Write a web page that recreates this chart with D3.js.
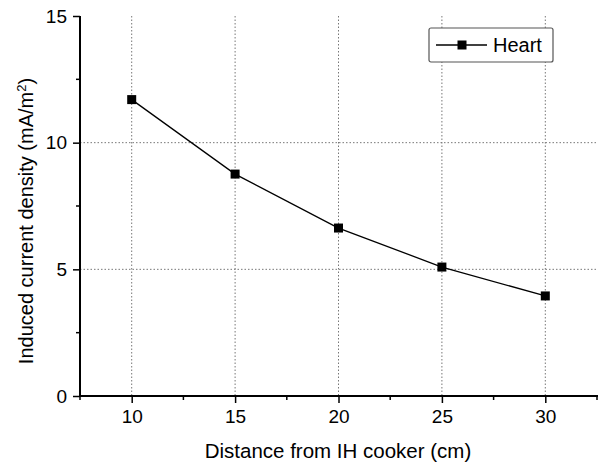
<!DOCTYPE html>
<html>
<head>
<meta charset="utf-8">
<script src="https://cdn.jsdelivr.net/npm/d3@7"></script>
<style>
  body { margin: 0; background: #fff; }
  text { font-family: "Liberation Sans", Arial, sans-serif; fill: #000; }
</style>
</head>
<body>
<div id="chart"></div>
<script>
var distances = [10, 15, 20, 25, 30];          // cm
var heartValues = [11.7, 8.76, 6.63, 5.09, 3.95]; // mA/m^2
var xTicks = [10, 15, 20, 25, 30];
var xMinor = [7.5, 12.5, 17.5, 22.5, 27.5, 32.5];
var yTicks = [0, 5, 10, 15];
var yMinor = [2.5, 7.5, 12.5];
var seriesName = "Heart";

var w = 604, h = 464;
var svg = d3.select("#chart").append("svg")
    .attr("width", w)
    .attr("height", h);

var x = d3.scaleLinear().domain([7.5, 32.5]).range([80, 597]);
var y = d3.scaleLinear().domain([0, 15]).range([396, 16]);

// grid lines, dotted grey
svg.append("g").selectAll("line")
    .data(xTicks)
    .enter().append("line")
    .attr("x1", d => x(d)).attr("x2", d => x(d))
    .attr("y1", y(15)).attr("y2", y(0))
    .attr("stroke", "#777").attr("stroke-width", 1)
    .attr("stroke-dasharray", "1.5,2");

svg.append("g").selectAll("line")
    .data(yTicks.filter(d => d > 0 && d < 15))
    .enter().append("line")
    .attr("x1", x(7.5)).attr("x2", x(32.5))
    .attr("y1", d => y(d)).attr("y2", d => y(d))
    .attr("stroke", "#777").attr("stroke-width", 1)
    .attr("stroke-dasharray", "1.5,2");

// axes
var xAxis = svg.append("g")
    .attr("transform", "translate(0," + y(0) + ")")
    .call(d3.axisBottom(x).tickValues(xTicks).tickSize(7).tickPadding(7).tickFormat(d3.format("d")));
xAxis.append("g").selectAll("line")
    .data(xMinor)
    .enter().append("line")
    .attr("x1", d => x(d)).attr("x2", d => x(d))
    .attr("y1", 0).attr("y2", 4)
    .attr("stroke", "#000").attr("stroke-width", 1.5);

var yAxis = svg.append("g")
    .attr("transform", "translate(" + x(7.5) + ",0)")
    .call(d3.axisLeft(y).tickValues(yTicks).tickSize(7).tickPadding(6).tickFormat(d3.format("d")));
yAxis.append("g").selectAll("line")
    .data(yMinor)
    .enter().append("line")
    .attr("x1", 0).attr("x2", -4)
    .attr("y1", d => y(d)).attr("y2", d => y(d))
    .attr("stroke", "#000").attr("stroke-width", 1.5);

[xAxis, yAxis].forEach(function(a) {
    a.select(".domain").remove();
    a.selectAll(".tick line").attr("stroke", "#000").attr("stroke-width", 1.5);
    a.selectAll(".tick text").style("font-size", "19px");
});
// plain axis lines
xAxis.append("line").attr("x1", x(7.5) - 1).attr("x2", x(32.5) + 1).attr("stroke", "#000").attr("stroke-width", 2);
yAxis.append("line").attr("y1", y(0) + 1).attr("y2", y(15)).attr("stroke", "#000").attr("stroke-width", 2);

// data line
var line = d3.line()
    .x((d, i) => x(distances[i]))
    .y(d => y(d));

svg.append("path")
    .datum(heartValues)
    .attr("d", line)
    .attr("fill", "none")
    .attr("stroke", "#000")
    .attr("stroke-width", 1.3);

var ms = 9;
svg.append("g").selectAll("rect")
    .data(heartValues)
    .enter().append("rect")
    .attr("x", (d, i) => x(distances[i]) - ms / 2)
    .attr("y", d => y(d) - ms / 2)
    .attr("width", ms).attr("height", ms)
    .attr("fill", "#000");

// axis titles
svg.append("text")
    .attr("x", 338)
    .attr("y", 458)
    .attr("text-anchor", "middle")
    .style("font-size", "20.5px")
    .text("Distance from IH cooker (cm)");

var yt = svg.append("text")
    .attr("transform", "translate(33,221) rotate(-90)")
    .attr("text-anchor", "middle")
    .style("font-size", "20px");
yt.append("tspan").text("Induced current density (mA/m");
yt.append("tspan").attr("baseline-shift", "super").style("font-size", "13px").text("2");
yt.append("tspan").text(")");

// legend
var lg = svg.append("g").attr("transform", "translate(429,28)");
lg.append("rect")
    .attr("width", 124).attr("height", 34)
    .attr("rx", 2)
    .attr("fill", "#fff")
    .attr("stroke", "#555").attr("stroke-width", 1.2);
lg.append("line")
    .attr("x1", 7).attr("x2", 58)
    .attr("y1", 17).attr("y2", 17)
    .attr("stroke", "#000").attr("stroke-width", 1.3);
lg.append("rect")
    .attr("x", 33 - ms / 2).attr("y", 17 - ms / 2)
    .attr("width", ms).attr("height", ms)
    .attr("fill", "#000");
lg.append("text")
    .attr("x", 64).attr("y", 24)
    .style("font-size", "20px")
    .text(seriesName);
</script>
</body>
</html>
